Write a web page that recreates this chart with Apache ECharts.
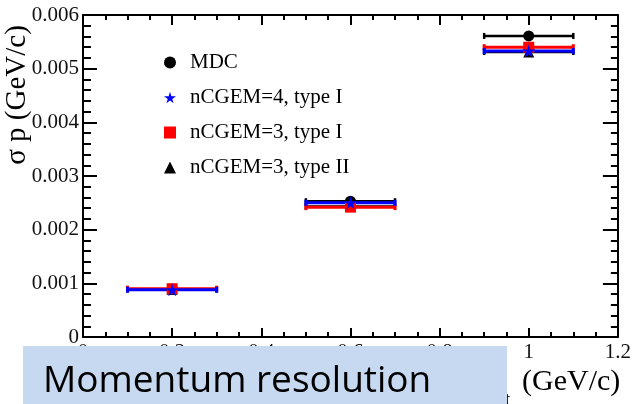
<!DOCTYPE html>
<html>
<head>
<meta charset="utf-8">
<script src="https://cdn.jsdelivr.net/npm/echarts@6/dist/echarts.min.js"></script>
<style>
  html, body { margin: 0; padding: 0; background: #fff; }
  #chart { width: 634px; height: 404px; }
</style>
</head>
<body>
<div id="chart"></div>
<script>
// Transverse momentum bins (GeV/c) and their half widths
const ptCenters = [0.2, 0.6, 1.0];
const ptHalfWidth = [0.1, 0.1, 0.1];

// Momentum resolution sigma_p (GeV/c) per detector configuration
const mdc = [0.00089, 0.00253, 0.00561];
const cgem4TypeI = [0.00088, 0.00250, 0.00533];
const cgem3TypeI = [0.00090, 0.00242, 0.00540];
const cgem3TypeII = [0.00089, 0.00243, 0.00531];

const seriesNames = ['MDC', 'nCGEM=4, type I', 'nCGEM=3, type I', 'nCGEM=3, type II'];

const STAR = 'path://M50,0 L61,35 L98,35 L68,57 L79,91 L50,70 L21,91 L32,57 L2,35 L39,35 Z';
const SERIF = '"Liberation Serif", "DejaVu Serif", serif';

function errorBarData(values) {
  return values.map((v, i) => [ptCenters[i], v, ptCenters[i] - ptHalfWidth[i], ptCenters[i] + ptHalfWidth[i]]);
}

function errorBars(name, values, color, width) {
  return {
    type: 'custom',
    name: name,
    xAxisIndex: 0,
    yAxisIndex: 0,
    silent: true,
    data: errorBarData(values),
    renderItem: function (params, api) {
      const l = api.coord([api.value(2), api.value(1)]);
      const r = api.coord([api.value(3), api.value(1)]);
      const st = { stroke: color, lineWidth: width };
      return {
        type: 'group',
        children: [
          { type: 'line', shape: { x1: l[0], y1: l[1], x2: r[0], y2: r[1] }, style: st },
          { type: 'line', shape: { x1: l[0], y1: l[1] - 3, x2: l[0], y2: l[1] + 3 }, style: st },
          { type: 'line', shape: { x1: r[0], y1: r[1] - 3, x2: r[0], y2: r[1] + 3 }, style: st }
        ]
      };
    }
  };
}

function markers(name, values, symbol, size, color) {
  return {
    type: 'scatter',
    name: name,
    xAxisIndex: 0,
    yAxisIndex: 0,
    symbol: symbol,
    symbolSize: size,
    itemStyle: { color: color, opacity: 1 },
    emphasis: { disabled: true },
    data: values.map((v, i) => [ptCenters[i], v])
  };
}

const axisLine = { show: true, onZero: false, lineStyle: { color: '#000', width: 2 } };

function frameAxis(extra) {
  return Object.assign({
    type: 'value',
    axisLine: axisLine,
    splitLine: { show: false }
  }, extra);
}

const chart = echarts.init(document.getElementById('chart'), null, { renderer: 'canvas' });

chart.setOption({
  animation: false,
  backgroundColor: '#fff',
  grid: { left: 83, right: 11, top: 15, bottom: 67, containLabel: false },
  legend: {
    orient: 'vertical',
    left: 159,
    top: 47,
    itemWidth: 12,
    itemHeight: 12,
    itemGap: 14,
    selectedMode: false,
    textStyle: { fontFamily: SERIF, fontSize: 21, color: '#000', padding: [0, 0, 0, 9] },
    data: [
      { name: seriesNames[0], icon: 'circle', itemStyle: { color: '#000' } },
      { name: seriesNames[1], icon: STAR, itemStyle: { color: '#0000ff' } },
      { name: seriesNames[2], icon: 'rect', itemStyle: { color: '#ff0000' } },
      { name: seriesNames[3], icon: 'triangle', itemStyle: { color: '#000' } }
    ]
  },
  xAxis: [
    frameAxis({
      position: 'bottom', min: 0, max: 1.2, interval: 0.2,
      axisTick: { show: true, inside: true, length: 9, lineStyle: { color: '#000', width: 2 } },
      minorTick: { show: true, splitNumber: 4, length: 5, lineStyle: { color: '#000', width: 2 } },
      axisLabel: { fontFamily: SERIF, fontSize: 21, color: '#111', margin: 5 }
    }),
    frameAxis({
      position: 'top', min: 0, max: 1.2, interval: 0.2,
      axisTick: { show: true, inside: true, length: 10, lineStyle: { color: '#000', width: 2 } },
      minorTick: { show: true, splitNumber: 4, length: 5, lineStyle: { color: '#000', width: 2 } },
      axisLabel: { show: false }
    })
  ],
  yAxis: [
    frameAxis({
      position: 'left', min: 0, max: 0.006, interval: 0.001,
      axisTick: { show: true, inside: true, length: 14, lineStyle: { color: '#000', width: 2 } },
      minorTick: { show: true, splitNumber: 5, length: 8, lineStyle: { color: '#000', width: 2 } },
      axisLabel: { fontFamily: SERIF, fontSize: 21, color: '#111', margin: 4 }
    }),
    frameAxis({
      position: 'right', min: 0, max: 0.006, interval: 0.001,
      axisTick: { show: true, inside: true, length: 15, lineStyle: { color: '#000', width: 2 } },
      minorTick: { show: true, splitNumber: 5, length: 7, lineStyle: { color: '#000', width: 2 } },
      axisLabel: { show: false }
    })
  ],
  series: [
    errorBars(seriesNames[0], mdc, '#000', 2.5),
    markers(seriesNames[0], mdc, 'circle', 11, '#000'),
    errorBars(seriesNames[3], cgem3TypeII, '#000', 2.5),
    markers(seriesNames[3], cgem3TypeII, 'triangle', 11, '#000'),
    errorBars(seriesNames[2], cgem3TypeI, '#ff0000', 3),
    markers(seriesNames[2], cgem3TypeI, 'rect', 11, '#ff0000'),
    errorBars(seriesNames[1], cgem4TypeI, '#0000ff', 3),
    markers(seriesNames[1], cgem4TypeI, STAR, 13, '#0000ff')
  ],
  graphic: [
    {
      type: 'text', x: 17, y: 95, rotation: Math.PI / 2, z: 50,
      style: { x: 0, y: 0, text: 'σ p (GeV/c)', fontFamily: SERIF, fontSize: 29, fill: '#000', align: 'center', verticalAlign: 'middle' }
    },
    {
      type: 'text', x: 490, y: 382, z: 50,
      style: { text: 'p', fontFamily: SERIF, fontSize: 30, fill: '#000', align: 'left', verticalAlign: 'middle' }
    },
    {
      type: 'text', x: 505, y: 391, z: 50,
      style: { text: 't', fontFamily: SERIF, fontSize: 19, fill: '#000', align: 'left', verticalAlign: 'top' }
    },
    {
      type: 'text', x: 522, y: 382, z: 50,
      style: { text: '(GeV/c)', fontFamily: SERIF, fontSize: 30, fill: '#000', align: 'left', verticalAlign: 'middle' }
    },
    {
      type: 'rect', z: 100,
      shape: { x: 23, y: 346, width: 484, height: 58 },
      style: { fill: '#C6D9F1' }
    },
    {
      type: 'text', x: 43, y: 381, z: 101,
      style: { text: 'Momentum resolution', fontFamily: '"Open Sans", sans-serif', fontSize: 37, fill: '#000', align: 'left', verticalAlign: 'middle' }
    }
  ]
});
</script>
</body>
</html>
